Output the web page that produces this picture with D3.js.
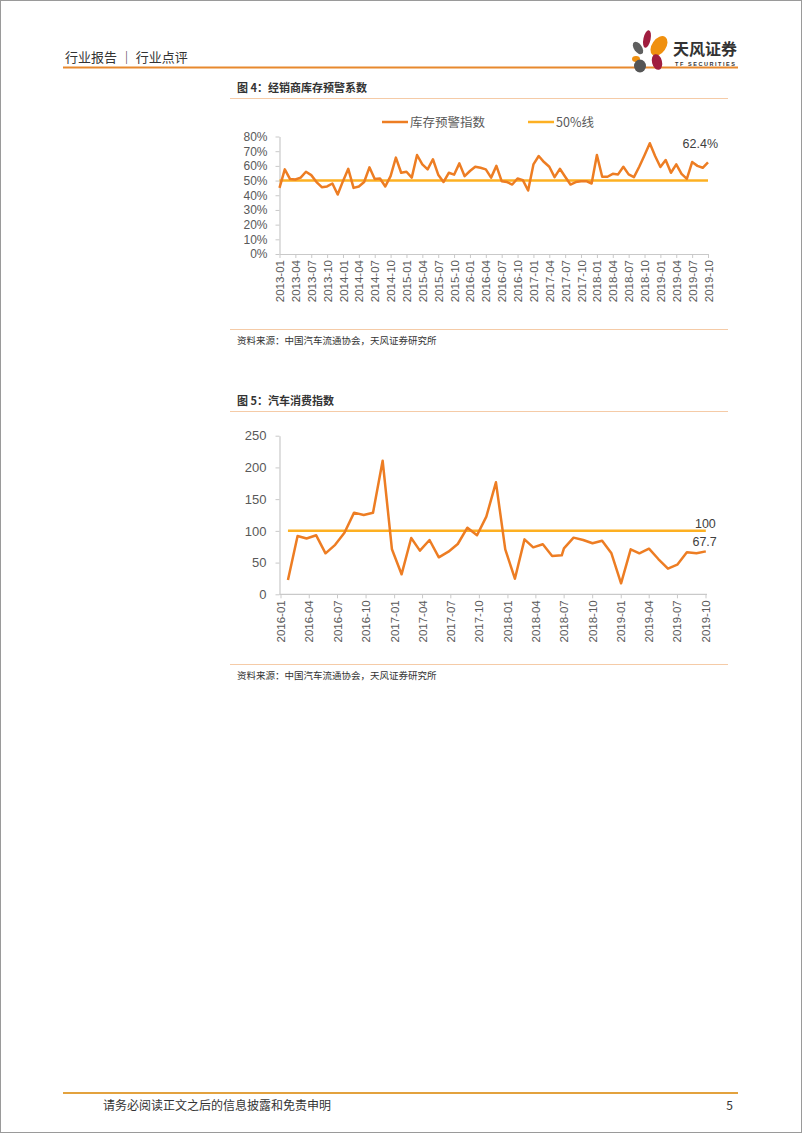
<!DOCTYPE html>
<html>
<head>
<meta charset="utf-8">
<script src="https://cdn.jsdelivr.net/npm/d3@7"></script>
<style>
    body { margin: 0; background: #fff; }
    text { font-family: "Noto Sans CJK SC", "Liberation Sans", sans-serif; }
</style>
</head>
<body>
<div id="page"></div>
<script>
// 图4 经销商库存预警系数 (monthly, 2013-01 .. 2019-10)
const stockValues = [
    45, 57.6, 51, 50.7, 52, 56, 53.7, 49, 45.5, 46,
    48, 40.5, 49.6, 58, 45, 46, 49, 59, 51, 51.4,
    46, 53, 65.6, 55.3, 56, 52, 67.4, 61, 57.6, 64.5,
    54, 49, 55.3, 54, 61.7, 53, 56.5, 59.4, 58.7, 57.6,
    52, 60, 49.6, 49, 47.3, 51.4, 50.3, 43.2, 61, 66.7,
    62.6, 59.4, 52.3, 58, 52.6, 47.3, 49, 49.6, 49.6, 48,
    67.4, 52.6, 52.6, 54.6, 54.2, 59.4, 54.2, 52.3, 59.4, 67.2,
    75.4, 66.7, 59.2, 64, 55.3, 61, 54.6, 51.2, 62.6, 60,
    58.7, 62.4
];
const stockTicks = [
    '2013-01', '2013-04', '2013-07', '2013-10', '2014-01', '2014-04', '2014-07', '2014-10',
    '2015-01', '2015-04', '2015-07', '2015-10', '2016-01', '2016-04', '2016-07', '2016-10',
    '2017-01', '2017-04', '2017-07', '2017-10', '2018-01', '2018-04', '2018-07', '2018-10',
    '2019-01', '2019-04', '2019-07', '2019-10'
];
const stockLine = 50;
const stockYTicks = [0, 10, 20, 30, 40, 50, 60, 70, 80];

// 图5 汽车消费指数
const consumeDates = [
    '2016-01-25', '2016-02-25', '2016-03-25', '2016-04-25', '2016-05-25', '2016-06-25',
    '2016-07-25', '2016-08-25', '2016-09-25', '2016-10-25', '2016-11-25', '2016-12-25',
    '2017-01-25', '2017-02-25', '2017-03-25', '2017-04-25', '2017-05-25', '2017-06-25',
    '2017-07-25', '2017-08-25', '2017-09-25', '2017-10-25', '2017-11-25', '2017-12-25',
    '2018-01-25', '2018-02-25', '2018-03-25', '2018-04-25', '2018-05-25', '2018-06-25',
    '2018-07-02', '2018-08-02', '2018-09-02', '2018-10-02', '2018-11-02', '2018-12-02',
    '2019-01-02', '2019-02-02', '2019-03-02', '2019-04-02', '2019-05-02', '2019-06-02',
    '2019-07-02', '2019-08-02', '2019-09-02', '2019-10-02'
];
const consumeValues = [
    22.5, 92, 88, 93, 64.6, 78, 97, 128.7, 125, 128.5,
    210.6, 70.9, 31.5, 88.7, 68.8, 85.6, 58.3, 67.2, 79.3, 105,
    93, 122.4, 176.5, 70.9, 24.6, 86.6, 74, 78.8, 60.4, 61.4,
    72.5, 89.3, 85.6, 80.4, 84.5, 64.6, 17.3, 70.9, 64.6, 71.9,
    55.6, 40.4, 46.7, 66.2, 64.6, 67.7
];
const consumeTicks = [
    '2016-01', '2016-04', '2016-07', '2016-10', '2017-01', '2017-04', '2017-07', '2017-10',
    '2018-01', '2018-04', '2018-07', '2018-10', '2019-01', '2019-04', '2019-07', '2019-10'
];
const consumeLine = 100;
const consumeYTicks = [0, 50, 100, 150, 200, 250];

const seriesColor = '#ED7D23';
const refColor = '#FDB022';
const axisColor = '#C9C9C9';
const labelColor = '#595959';
const numFont = '"Liberation Sans", Arial, sans-serif';

const W = 802, H = 1133;

const svg = d3.select('#page').append('svg')
    .attr('width', W)
    .attr('height', H);

svg.append('rect')
    .attr('x', 0.5).attr('y', 0.5)
    .attr('width', W - 1).attr('height', H - 1)
    .attr('fill', '#fff')
    .attr('stroke', '#9a9a9a');

// ---- page header
svg.append('text')
    .attr('x', 65).attr('y', 62)
    .attr('font-size', 13)
    .attr('fill', '#333')
    .text('行业报告 ｜ 行业点评');

svg.append('line')
    .attr('x1', 63).attr('x2', 738)
    .attr('y1', 67.5).attr('y2', 67.5)
    .attr('stroke', '#E8892E')
    .attr('stroke-width', 2);

const logo = svg.append('g');
const petals = [
    { cx: 647, cy: 39, rx: 3.6, ry: 9, rot: 12, c: '#A01D3F' },
    { cx: 659, cy: 46, rx: 7, ry: 11, rot: 35, c: '#F0900F' },
    { cx: 638, cy: 48, rx: 4, ry: 7, rot: -35, c: '#5f5f5f' },
    { cx: 636, cy: 59, rx: 4, ry: 3, rot: 0, c: '#F0900F' },
    { cx: 657, cy: 62, rx: 5, ry: 8, rot: -15, c: '#A01D3F' },
    { cx: 640, cy: 66, rx: 6, ry: 6.5, rot: 0, c: '#555' }
];
logo.selectAll('ellipse').data(petals).join('ellipse')
    .attr('cx', d => d.cx).attr('cy', d => d.cy)
    .attr('rx', d => d.rx).attr('ry', d => d.ry)
    .attr('transform', d => `rotate(${d.rot}, ${d.cx}, ${d.cy})`)
    .attr('fill', d => d.c);
logo.append('text')
    .attr('x', 673).attr('y', 55)
    .attr('font-size', 16).attr('font-weight', 'bold')
    .attr('fill', '#333')
    .text('天风证券');
logo.append('text')
    .attr('x', 675).attr('y', 65.5)
    .attr('font-size', 5.5).attr('font-weight', 'bold')
    .style('font-family', numFont)
    .attr('fill', '#333')
    .attr('textLength', 60)
    .text('TF SECURITIES');

// ---- footer
svg.append('line')
    .attr('x1', 63).attr('x2', 738)
    .attr('y1', 1093).attr('y2', 1093)
    .attr('stroke', '#E3A23E')
    .attr('stroke-width', 2);
svg.append('text')
    .attr('x', 103).attr('y', 1110)
    .attr('font-size', 12)
    .attr('fill', '#333')
    .text('请务必阅读正文之后的信息披露和免责申明');
svg.append('text')
    .attr('x', 733).attr('y', 1110)
    .attr('font-size', 12)
    .attr('text-anchor', 'end')
    .attr('fill', '#333')
    .text('5');

// ---- figure frames (title + rules + source)
function frame(titleY, topRule, bottomRule, title) {
    svg.append('text')
        .attr('x', 237).attr('y', titleY)
        .attr('font-size', 11).attr('font-weight', 'bold')
        .attr('fill', '#333')
        .text(title);
    svg.append('line')
        .attr('x1', 230).attr('x2', 728)
        .attr('y1', topRule).attr('y2', topRule)
        .attr('stroke', '#F5CBA7');
    svg.append('line')
        .attr('x1', 230).attr('x2', 728)
        .attr('y1', bottomRule).attr('y2', bottomRule)
        .attr('stroke', '#F5CBA7');
    svg.append('text')
        .attr('x', 237).attr('y', bottomRule + 14)
        .attr('font-size', 9.5)
        .attr('fill', '#333')
        .text('资料来源：中国汽车流通协会，天风证券研究所');
}

frame(92, 98.5, 329.5, '图 4：经销商库存预警系数');
frame(405, 411.5, 664.5, '图 5：汽车消费指数');

function styleAxis(g) {
    g.select('.domain').attr('stroke', axisColor).attr('stroke-width', 1.2);
    g.selectAll('.tick line').attr('stroke', axisColor);
    g.selectAll('.tick text')
        .attr('fill', labelColor)
        .style('font-family', numFont);
}

function rotateLabels(g) {
    g.selectAll('.tick text')
        .attr('font-size', 11.5)
        .attr('transform', 'rotate(-90)')
        .attr('text-anchor', 'end')
        .attr('x', -6)
        .attr('y', 0)
        .attr('dy', '0.35em');
}

// ---- chart 1
{
    const x0 = 279.5, x1 = 708, yTop = 136.5, yBot = 254;
    const months = stockValues.map((v, i) => d3.timeFormat('%Y-%m')(new Date(2013, i, 1)));

    const x = d3.scalePoint().domain(months).range([x0, x1]);
    const y = d3.scaleLinear().domain([0, 80]).range([yBot, yTop]);

    const gx = svg.append('g')
        .attr('transform', `translate(0, ${yBot})`)
        .call(d3.axisBottom(x).tickValues(stockTicks).tickSize(4).tickSizeOuter(0));
    styleAxis(gx);
    rotateLabels(gx);

    const gy = svg.append('g')
        .attr('transform', `translate(${x0}, 0)`)
        .call(d3.axisLeft(y).tickValues(stockYTicks).tickSize(4).tickSizeOuter(0).tickPadding(8)
            .tickFormat(d => d + '%'));
    styleAxis(gy);
    gy.selectAll('.tick text').attr('font-size', 12);

    svg.append('line')
        .attr('x1', x(months[0])).attr('x2', x(months[months.length - 1]))
        .attr('y1', y(stockLine)).attr('y2', y(stockLine))
        .attr('stroke', refColor)
        .attr('stroke-width', 2.5);

    const line = d3.line()
        .x((d, i) => x(months[i]))
        .y(d => y(d));

    svg.append('path')
        .datum(stockValues)
        .attr('d', line)
        .attr('fill', 'none')
        .attr('stroke', seriesColor)
        .attr('stroke-width', 2.5)
        .attr('stroke-linejoin', 'round');

    const last = stockValues[stockValues.length - 1];
    svg.append('text')
        .attr('x', x(months[months.length - 1]) + 10)
        .attr('y', y(last) - 14)
        .attr('text-anchor', 'end')
        .attr('font-size', 12.5)
        .style('font-family', numFont)
        .attr('fill', '#404040')
        .text(last.toFixed(1) + '%');

    // legend
    const legend = [
        { name: '库存预警指数', color: seriesColor, x: 382 },
        { name: '50%线', color: refColor, x: 528 }
    ];
    const lg = svg.append('g').selectAll('g').data(legend).join('g')
        .attr('transform', d => `translate(${d.x}, 122)`);
    lg.append('line')
        .attr('x1', 0).attr('x2', 26)
        .attr('stroke', d => d.color)
        .attr('stroke-width', 2.5);
    lg.append('text')
        .attr('x', 28).attr('dy', '0.36em')
        .attr('font-size', 12.5)
        .attr('fill', labelColor)
        .text(d => d.name);
}

// ---- chart 2
{
    const x0 = 280.5, x1 = 705.5, yTop = 435.7, yBot = 594.3;
    const parse = d3.timeParse('%Y-%m-%d');
    const parseMonth = d3.timeParse('%Y-%m');
    const dates = consumeDates.map(parse);

    const x = d3.scaleTime()
        .domain([parseMonth(consumeTicks[0]), parseMonth(consumeTicks[consumeTicks.length - 1])])
        .range([x0, x1]);
    const y = d3.scaleLinear().domain([0, 250]).range([yBot, yTop]);

    const gx = svg.append('g')
        .attr('transform', `translate(0, ${yBot})`)
        .call(d3.axisBottom(x).tickValues(consumeTicks.map(parseMonth)).tickSize(4).tickSizeOuter(0)
            .tickFormat(d3.timeFormat('%Y-%m')));
    gx.select('.domain').attr('d', `M${x0 - 1},0H${x1 + 1.5}`);
    styleAxis(gx);
    rotateLabels(gx);

    const gy = svg.append('g')
        .attr('transform', `translate(${x0 - 1}, 0)`)
        .call(d3.axisLeft(y).tickValues(consumeYTicks).tickSize(4).tickSizeOuter(0).tickPadding(9));
    styleAxis(gy);
    gy.selectAll('.tick text').attr('font-size', 13);

    svg.append('line')
        .attr('x1', x(dates[0])).attr('x2', x(dates[dates.length - 1]))
        .attr('y1', y(consumeLine)).attr('y2', y(consumeLine))
        .attr('stroke', refColor)
        .attr('stroke-width', 2.5);

    const line = d3.line()
        .x((d, i) => x(dates[i]))
        .y(d => y(d));

    svg.append('path')
        .datum(consumeValues)
        .attr('d', line)
        .attr('fill', 'none')
        .attr('stroke', seriesColor)
        .attr('stroke-width', 2.5)
        .attr('stroke-linejoin', 'round');

    const xe = x(dates[dates.length - 1]);
    const last = consumeValues[consumeValues.length - 1];
    svg.append('text')
        .attr('x', xe + 10).attr('y', y(consumeLine) - 3)
        .attr('text-anchor', 'end')
        .attr('font-size', 12.5)
        .style('font-family', numFont)
        .attr('fill', '#404040')
        .text(consumeLine);
    svg.append('text')
        .attr('x', xe + 11).attr('y', y(last) - 5)
        .attr('text-anchor', 'end')
        .attr('font-size', 12.5)
        .style('font-family', numFont)
        .attr('fill', '#404040')
        .text(last.toFixed(1));
}
</script>
</body>
</html>
